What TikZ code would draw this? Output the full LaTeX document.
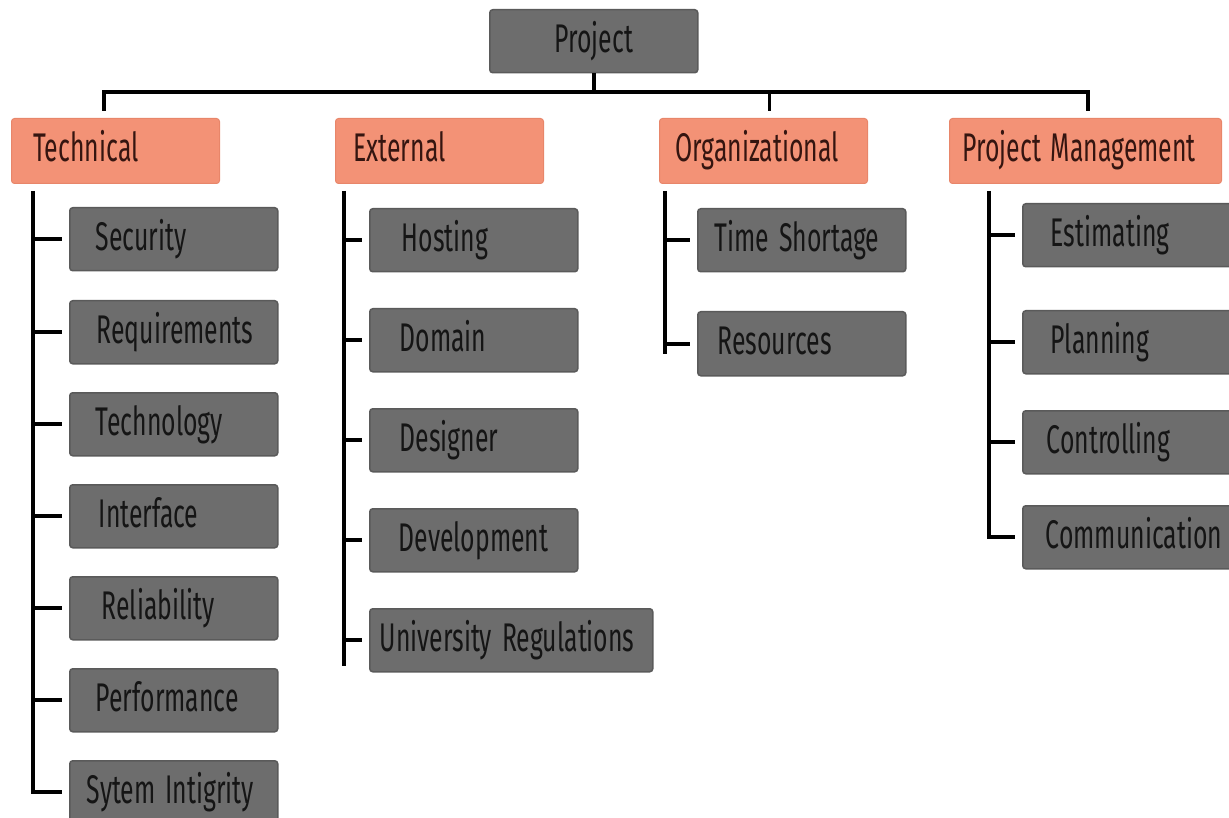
\documentclass[tikz,border=0pt]{standalone}
\usepackage{fontspec}
\setmainfont[FakeStretch=0.62]{Fira Sans}
\usetikzlibrary{calc}
\newcommand\wbsnodefont{\fontsize{40}{44}\selectfont}
\newcommand\wsp{\hspace*{10pt}}
\definecolor{boxgray}{HTML}{6D6D6D}
\definecolor{boxedge}{HTML}{5A5A5A}
\definecolor{catfill}{HTML}{F39276}
\definecolor{catedge}{HTML}{E8866A}
\definecolor{gtext}{HTML}{151515}
\definecolor{otext}{HTML}{351510}
\tikzset{
  base/.style={anchor=north west, rounded corners=3pt, inner xsep=0pt, inner ysep=0pt,
    align=left, text height=23pt, text depth=1pt, font=\wbsnodefont},
  gbox/.style={base, fill=boxgray, draw=boxedge, line width=1.5pt, text=gtext, minimum height=63pt},
  cbox/.style={base, fill=catfill, draw=catedge, line width=1pt, text=otext, minimum height=65pt},
  conn/.style={draw=black, line width=3.6pt, line cap=butt}
}
\begin{document}
\begin{tikzpicture}[x=1pt,y=-1pt]
\useasboundingbox (0,0) rectangle (1229,818);
\begin{scope}
\clip (0,0) rectangle (1229,818);
% top
\node[gbox, text width=208pt, minimum width=208pt, align=center] (proj) at (489,9) {Project};
% categories
\node[cbox, text width=208pt, minimum width=208pt] (tech) at (11,118) {\hspace*{22pt}Technical};
\node[cbox, text width=208pt, minimum width=208pt] (ext) at (335,118) {\hspace*{18pt}External};
\node[cbox, text width=208pt, minimum width=208pt] (org) at (659,118) {\hspace*{16pt}Organizational};
\node[cbox, text width=272pt, minimum width=272pt] (pm) at (949,118) {\hspace*{13pt}Project\wsp Management};
% technical children
\node[gbox, text width=208pt, minimum width=208pt] (tsec) at (69,207) {\hspace*{26pt}Security};
\node[gbox, text width=208pt, minimum width=208pt] (treq) at (69,300) {\hspace*{27pt}Requirements};
\node[gbox, text width=208pt, minimum width=208pt] (ttec) at (69,392) {\hspace*{26pt}Technology};
\node[gbox, text width=208pt, minimum width=208pt] (tint) at (69,484) {\hspace*{29pt}Interface};
\node[gbox, text width=208pt, minimum width=208pt] (trel) at (69,576) {\hspace*{32pt}Reliability};
\node[gbox, text width=208pt, minimum width=208pt] (tper) at (69,668) {\hspace*{26pt}Performance};
\node[gbox, text width=208pt, minimum width=208pt] (tsys) at (69,760) {\hspace*{17pt}Sytem\wsp Intigrity};
% external children
\node[gbox, text width=208pt, minimum width=208pt] (ehos) at (369,208) {\hspace*{32pt}Hosting};
\node[gbox, text width=208pt, minimum width=208pt] (edom) at (369,308) {\hspace*{30pt}Domain};
\node[gbox, text width=208pt, minimum width=208pt] (edes) at (369,408) {\hspace*{30pt}Designer};
\node[gbox, text width=208pt, minimum width=208pt] (edev) at (369,508) {\hspace*{29pt}Development};
\node[gbox, text width=283pt, minimum width=283pt] (euni) at (369,608) {\hspace*{10pt}University\wsp Regulations};
% organizational children
\node[gbox, text width=208pt, minimum width=208pt] (otim) at (697,208) {\hspace*{17pt}Time\wsp Shortage};
\node[gbox, text width=208pt, minimum width=208pt, minimum height=64pt] (ores) at (697,311) {\hspace*{20pt}Resources};
% pm children
\node[gbox, text width=215pt, minimum width=215pt] (pest) at (1022,203) {\hspace*{28pt}Estimating};
\node[gbox, text width=215pt, minimum width=215pt] (ppla) at (1022,310) {\hspace*{28pt}Planning};
\node[gbox, text width=215pt, minimum width=215pt] (pcon) at (1022,410) {\hspace*{24pt}Controlling};
\node[gbox, text width=215pt, minimum width=215pt] (pcom) at (1022,505) {\hspace*{23pt}Communication};
\end{scope}
% bus
\coordinate (busL) at (104,92);
\coordinate (busR) at (1088,92);
\draw[conn] (proj.south) -- (proj.south |- busL);
\draw[conn, shorten <=7pt, shorten >=7pt, line join=miter] (busL |- tech.north) -- (busL) -- (busR) -- (busR |- pm.north);
\draw[conn, shorten >=7pt] ([xshift=6pt]org.north |- busL) -- ([xshift=6pt]org.north);
% technical trunk
\coordinate (ttop) at ([xshift=22pt,yshift=-7pt]tech.south west);
\draw[conn, line join=miter] (ttop) -- (ttop |- tsys.west) -- ([xshift=-7pt]tsys.west);
\foreach \n in {tsec,treq,ttec,tint,trel,tper}
  \draw[conn] (ttop |- \n.west) -- ([xshift=-7pt]\n.west);
% external trunk
\coordinate (etop) at ([xshift=9pt,yshift=-7pt]ext.south west);
\draw[conn] (etop) -- ([yshift=-26pt]etop |- euni.west);
\foreach \n in {ehos,edom,edes,edev,euni}
  \draw[conn] (etop |- \n.west) -- ([xshift=-7pt]\n.west);
% organizational trunk
\coordinate (otop) at ([xshift=6pt,yshift=-7pt]org.south west);
\draw[conn] (otop) -- ([yshift=-10pt]otop |- ores.west);
\foreach \n in {otim,ores}
  \draw[conn] (otop |- \n.west) -- ([xshift=-7pt]\n.west);
% pm trunk
\coordinate (ptop) at ([xshift=40pt,yshift=-7pt]pm.south west);
\draw[conn, line join=miter] (ptop) -- (ptop |- pcom.west) -- ([xshift=-7pt]pcom.west);
\foreach \n in {pest,ppla,pcon}
  \draw[conn] (ptop |- \n.west) -- ([xshift=-7pt]\n.west);
\end{tikzpicture}
\end{document}
